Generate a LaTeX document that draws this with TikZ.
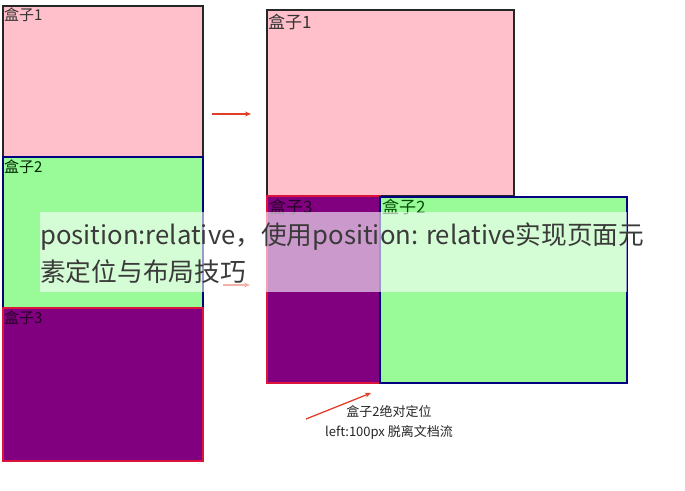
\documentclass[tikz,border=0pt]{standalone}
\usepackage{fontspec}
\newfontfamily\cjk{Noto Sans CJK SC}
\definecolor{pinkf}{HTML}{FFC0CB}
\definecolor{greenf}{HTML}{98FB98}
\definecolor{purplef}{HTML}{800080}
\definecolor{navyb}{HTML}{000080}
\definecolor{crimb}{HTML}{DC143C}
\definecolor{arrowr}{HTML}{E0402A}
\definecolor{captxt}{HTML}{3A3A3A}
\usetikzlibrary{arrows.meta}
\tikzset{
  box/.style={draw, line width=1.5pt, inner sep=0pt, outer sep=0pt},
  lbl/.style={anchor=north west, inner sep=0pt, font=\cjk\fontsize{15}{16}\selectfont, text=black!80},
  lblb/.style={anchor=north west, inner sep=0pt, font=\cjk\fontsize{17}{18}\selectfont, text=black!80},
  redarrow/.style={draw=arrowr, line width=1.3pt, -{Stealth[length=6pt,width=5pt]}},
}
\begin{document}
\begin{tikzpicture}[x=1pt,y=-1pt]
\useasboundingbox (0,0) rectangle (685,490);
% left column
\draw[box, fill=pinkf, draw=black!85] (3,6) rectangle (203,157);
\node[lbl] (l1) at (4,8) {盒子1};
\draw[box, fill=greenf, draw=navyb] (3,157) rectangle (203,308);
\node[lbl, text=black!85!green] (l2) at (4,160) {盒子2};
\draw[box, fill=purplef, draw=crimb] (3,308) rectangle (203,461);
\node[lbl, text=black!70!purplef] (l3) at (4,311) {盒子3};
% arrow 1
\coordinate (a1s) at (212,114);
\coordinate (a1e) at (251,114);
\draw[redarrow] (a1s) -- (a1e);
% arrow 2 (faint)
\coordinate (a2s) at (223,285);
\coordinate (a2e) at (250,285);
\draw[redarrow] (a2s) -- (a2e);
% right column
\draw[box, fill=pinkf, draw=black!85] (267,10) rectangle (514,196);
\node[lblb] (r1) at (268,14) {盒子1};
\draw[box, fill=purplef, draw=crimb] (267,196) rectangle (380,383);
\node[lblb, text=black!70!purplef] (r3) at (269,199) {盒子3};
\draw[box, fill=greenf, draw=navyb] (380,197) rectangle (627,383);
\node[lblb, text=black!70!green] (r2) at (382,199) {盒子2};
% bottom annotation
\node[font=\cjk\fontsize{13}{20}\selectfont, align=center, text=black!85] (ann) at (389,422) {盒子2绝对定位\\left:100px 脱离文档流};
\coordinate (a3s) at (306,419);
\coordinate (a3e) at (371,393);
\draw[redarrow] (a3s) -- (a3e);
% caption overlay
\fill[white, opacity=0.6] (40,212) rectangle (627,292);
\node[anchor=west, inner sep=0pt, font=\cjk\fontsize{25.7}{37}\selectfont, text=captxt, align=left] (cap) at (40,253)
  {position:relative，使用position: relative实现页面元\\素定位与布局技巧};
\end{tikzpicture}
\end{document}
